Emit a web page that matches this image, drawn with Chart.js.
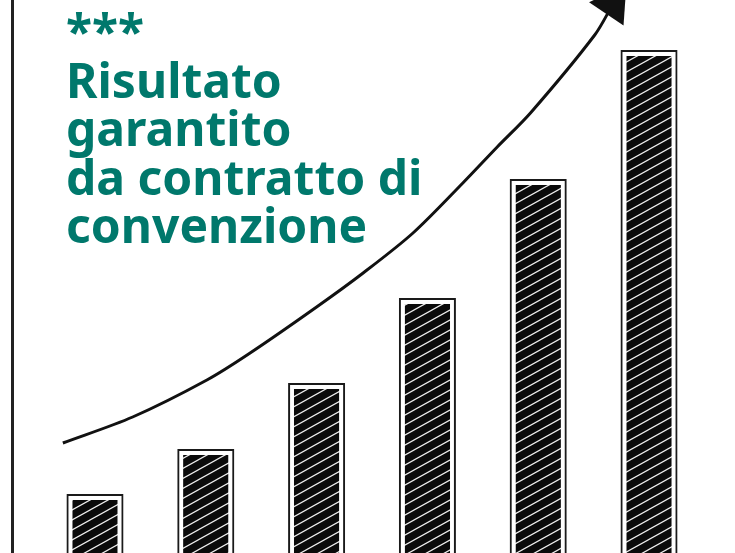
<!DOCTYPE html>
<html lang="it">
<head>
<meta charset="utf-8">
<title>Risultato garantito</title>
<script src="https://cdn.jsdelivr.net/npm/chart.js@4/dist/chart.umd.min.js"></script>
<style>
  html, body { margin: 0; padding: 0; background: #fff; }
  #wrap { position: relative; width: 735px; height: 553px; overflow: hidden; background: #fff; }
  #titolo {
    position: absolute; left: 66px; top: 7px;
    font-family: "Noto Sans", sans-serif; font-weight: 700;
    font-size: 48px; line-height: 48.5px; color: #00786c;
    white-space: nowrap;
  }
</style>
</head>
<body>
<div id="wrap">
  <canvas id="grafico"></canvas>
  <div id="titolo">***<br>Risultato<br>garantito<br>da contratto di<br>convenzione</div>
</div>
<script>
// dati
var posizioni = [1, 2, 3, 4, 5, 6];
var valoriBarre = [59, 104, 170, 255, 374, 503];

// curva di crescita (x in unità delle barre), l'ultimo punto è la punta della freccia
var curvaX = [0.71, 1.34, 2.01, 2.40, 3.00, 3.42, 3.87, 4.32, 4.63, 4.93, 5.51, 5.675];
var curvaY = [110, 136, 173, 200, 246, 280, 320, 370, 406, 440, 518, 549];

// tratteggio a mano per le barre
function creaTratteggio() {
    var w = 18, h = 10;
    var c = document.createElement('canvas');
    c.width = w; c.height = h;
    var g = c.getContext('2d');
    g.fillStyle = '#0a0a0a';
    g.fillRect(0, 0, w, h);
    g.strokeStyle = '#eeeeee';
    g.lineWidth = 1.2;
    for (var k = 0; k <= 2; k++) {
        g.beginPath();
        g.moveTo(-2, k * h + 2 * h / w);
        g.lineTo(w + 2, k * h - h - 2 * h / w);
        g.stroke();
    }
    return g.createPattern(c, 'repeat');
}

var barData = posizioni.map(function(x, i) { return {x: x, y: valoriBarre[i]}; });
var curva = curvaX.map(function(x, i) { return {x: x, y: curvaY[i]}; });
var ultimo = curva.length - 1;

var ctx = document.getElementById('grafico').getContext('2d');
var chart = new Chart(ctx, {
    type: 'bar',
    data: {
        datasets: [
            {
                type: 'line',
                label: 'Crescita',
                data: curva,
                borderColor: '#111',
                backgroundColor: '#111',
                borderWidth: 3,
                tension: 0.3,
                fill: false,
                clip: false,
                pointStyle: 'triangle',
                pointRotation: 34,
                pointRadius: function(c) { return c.dataIndex === ultimo ? 24 : 0; },
                pointBorderWidth: 0,
                order: 0
            },
            {
                label: 'Contorno',
                data: barData,
                backgroundColor: 'rgba(0,0,0,0)',
                borderColor: '#1a1a1a',
                borderWidth: {top: 2, left: 2, right: 2, bottom: 0},
                borderSkipped: false,
                barPercentage: 0.515,
                categoryPercentage: 1,
                grouped: false,
                order: 1
            },
            {
                label: 'Riempimento',
                data: barData,
                backgroundColor: creaTratteggio(),
                borderColor: '#fff',
                borderWidth: {top: 6, left: 0, right: 0, bottom: 0},
                borderSkipped: false,
                barPercentage: 0.41,
                categoryPercentage: 1,
                grouped: false,
                order: 2
            }
        ]
    },
    options: {
        responsive: true,
        maintainAspectRatio: false,
        animation: false,
        layout: { autoPadding: false, padding: { left: 12, top: 0, right: 0, bottom: 0 } },
        scales: {
            x: {
                type: 'linear',
                min: 0.251,
                max: 6.776,
                offset: false,
                display: false,
                afterBuildTicks: function(scale) {
                    scale.ticks = posizioni.map(function(v) { return {value: v}; });
                }
            },
            y: {
                min: 0,
                max: 553,
                ticks: { display: false },
                grid: { display: false },
                border: { display: true, color: '#222', width: 3 },
                afterFit: function(scale) { scale.width = 0; }
            }
        },
        plugins: {
            legend: { display: false },
            tooltip: { enabled: false }
        }
    }
});
</script>
</body>
</html>
